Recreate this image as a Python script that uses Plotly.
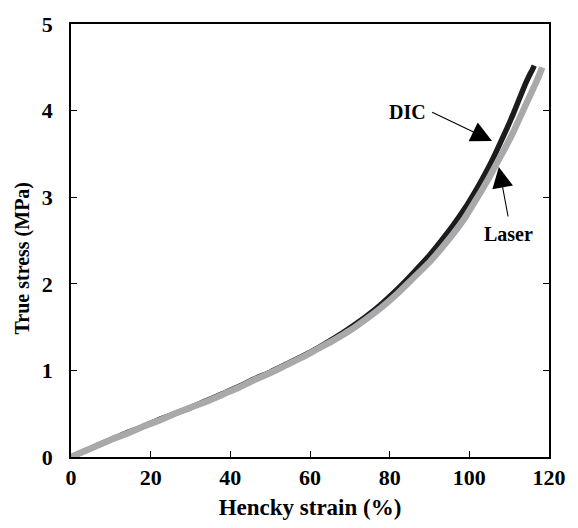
import plotly.graph_objects as go

# Data
dic_strain = [0, 3, 6, 10, 14, 18, 22, 26, 30, 34, 38, 42, 46, 50, 54, 58, 62, 66, 70,
              74, 78, 82, 86, 90, 93, 96, 99, 101, 103, 105, 106.5, 108, 109.5, 111,
              112.5, 114, 115, 115.8, 116.3]
dic_stress = [0, 0.06, 0.12, 0.2, 0.28, 0.35, 0.43, 0.5, 0.57, 0.65, 0.73, 0.81, 0.9,
              0.98, 1.07, 1.16, 1.26, 1.37, 1.49, 1.62, 1.77, 1.94, 2.13, 2.33, 2.5,
              2.68, 2.88, 3.03, 3.19, 3.36, 3.5, 3.65, 3.8, 3.96, 4.13, 4.3, 4.4, 4.47, 4.52]

laser_strain = [0, 3, 6, 10, 14, 18, 22, 26, 30, 34, 38, 42, 46, 50, 54, 58, 62, 66, 70,
                74, 78, 82, 86, 90, 93, 96, 99, 101, 103, 105, 107, 109, 111, 113,
                114.5, 116, 117, 117.8, 118.3]
laser_stress = [0, 0.06, 0.12, 0.2, 0.27, 0.35, 0.42, 0.5, 0.57, 0.64, 0.72, 0.8, 0.89,
                0.97, 1.06, 1.15, 1.25, 1.35, 1.46, 1.59, 1.73, 1.89, 2.07, 2.25, 2.41,
                2.58, 2.77, 2.92, 3.07, 3.23, 3.4, 3.57, 3.75, 3.95, 4.1, 4.25, 4.35,
                4.44, 4.5]

x_ticks = [0, 20, 40, 60, 80, 100, 120]
y_ticks = [0, 1, 2, 3, 4, 5]

FONT = "Liberation Serif"

fig = go.Figure()
fig.add_trace(go.Scatter(x=dic_strain, y=dic_stress, mode="lines", name="DIC",
                         line=dict(color="#1c1c1c", width=5.5, shape="spline", smoothing=0.6)))
fig.add_trace(go.Scatter(x=laser_strain, y=laser_stress, mode="lines", name="Laser",
                         line=dict(color="#a9a9ab", width=6.5, shape="spline", smoothing=0.6)))

fig.update_layout(
    width=578, height=528,
    margin=dict(l=71, r=23, t=20, b=68),
    paper_bgcolor="white", plot_bgcolor="white",
    showlegend=False,
    font=dict(family=FONT, size=20, color="black"),
)
fig.update_xaxes(
    range=[0, 120], tickvals=x_ticks, ticktext=[f"<b>{v}</b>" for v in x_ticks],
    ticks="inside", ticklen=6, tickwidth=1,
    tickcolor="black", showline=True, linecolor="black", linewidth=1.5, mirror=True,
    showgrid=False, zeroline=False,
    tickfont=dict(family=FONT, size=22, color="black"),
    title=dict(text="<b>Hencky strain (%)</b>", font=dict(family=FONT, size=23), standoff=10),
)
fig.update_yaxes(
    range=[0, 5], tickvals=y_ticks, ticktext=[f"<b>{v}</b>" for v in y_ticks],
    ticks="inside", ticklen=6, tickwidth=1, ticklabelstandoff=12,
    tickcolor="black", showline=True, linecolor="black", linewidth=1.5, mirror="ticks",
    showgrid=False, zeroline=False,
    tickfont=dict(family=FONT, size=22, color="black"),
)

# Y-axis title
fig.add_annotation(xref="paper", yref="paper", x=-0.101, y=0.46, text="<b>True stress (MPa)</b>",
                   textangle=-90, showarrow=False, xanchor="center", yanchor="middle",
                   font=dict(family=FONT, size=20))

# Labels and arrows
fig.add_annotation(x=84.4, y=3.98, text="<b>DIC</b>", showarrow=False,
                   font=dict(family=FONT, size=20))
fig.add_annotation(x=105.7, y=3.65, ax=90.3, ay=3.99, axref="x", ayref="y",
                   text="", showarrow=True, arrowhead=2, arrowsize=3.8,
                   arrowwidth=1.1, arrowcolor="black", standoff=0)
fig.add_annotation(x=109.9, y=2.58, text="<b>Laser</b>", showarrow=False,
                   font=dict(family=FONT, size=20))
fig.add_annotation(x=107.4, y=3.35, ax=109.8, ay=2.76, axref="x", ayref="y",
                   text="", showarrow=True, arrowhead=2, arrowsize=3.8,
                   arrowwidth=1.1, arrowcolor="black", standoff=0)

fig.write_html("out.html")
